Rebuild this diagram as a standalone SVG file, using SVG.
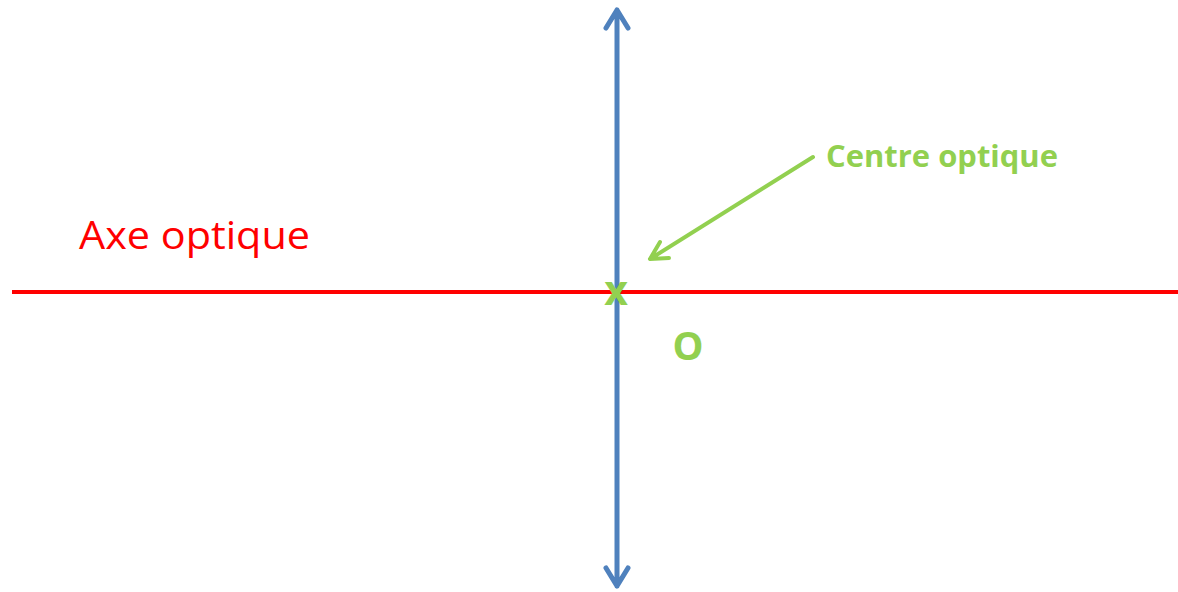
<svg xmlns="http://www.w3.org/2000/svg" width="1178" height="592" viewBox="0 0 1178 592">
<style>
.lens{stroke:#4F81BD;stroke-width:5;fill:none;stroke-linecap:round;stroke-linejoin:round}
.axis{stroke:#FF0000;stroke-width:4;fill:none}
.ptr{stroke:#92D050;stroke-width:4;fill:none;stroke-linecap:round;stroke-linejoin:round}
.green{fill:#92D050;font-family:'Open Sans','Liberation Sans',sans-serif;font-weight:bold}
.red{fill:#FF0000;font-family:'Open Sans','Liberation Sans',sans-serif}
</style>
<rect width="1178" height="592" fill="#FFFFFF"/>
<g id="connectors">
<line class="axis" x1="12" y1="292" x2="1178" y2="292"/>
<path class="lens" d="M617,10 V586 M606,28 L617,10 L628,28 M606,568 L617,586 L628,568"/>
<path class="ptr" d="M813,157 L650,259 M660,242 L650,259 L669,258"/>
</g>
<g id="axe-label"><text class="red" x="79" y="249" font-size="39" textLength="231" lengthAdjust="spacingAndGlyphs">Axe optique</text></g>
<g id="centre-label"><text class="green" x="826" y="167" font-size="31" textLength="232" lengthAdjust="spacingAndGlyphs">Centre optique</text></g>
<g id="centre-mark"><text class="green" x="616" y="305" font-size="41" text-anchor="middle">x</text></g>
<g id="o-label"><text class="green" x="688" y="360" font-size="39" text-anchor="middle">O</text></g>
</svg>
